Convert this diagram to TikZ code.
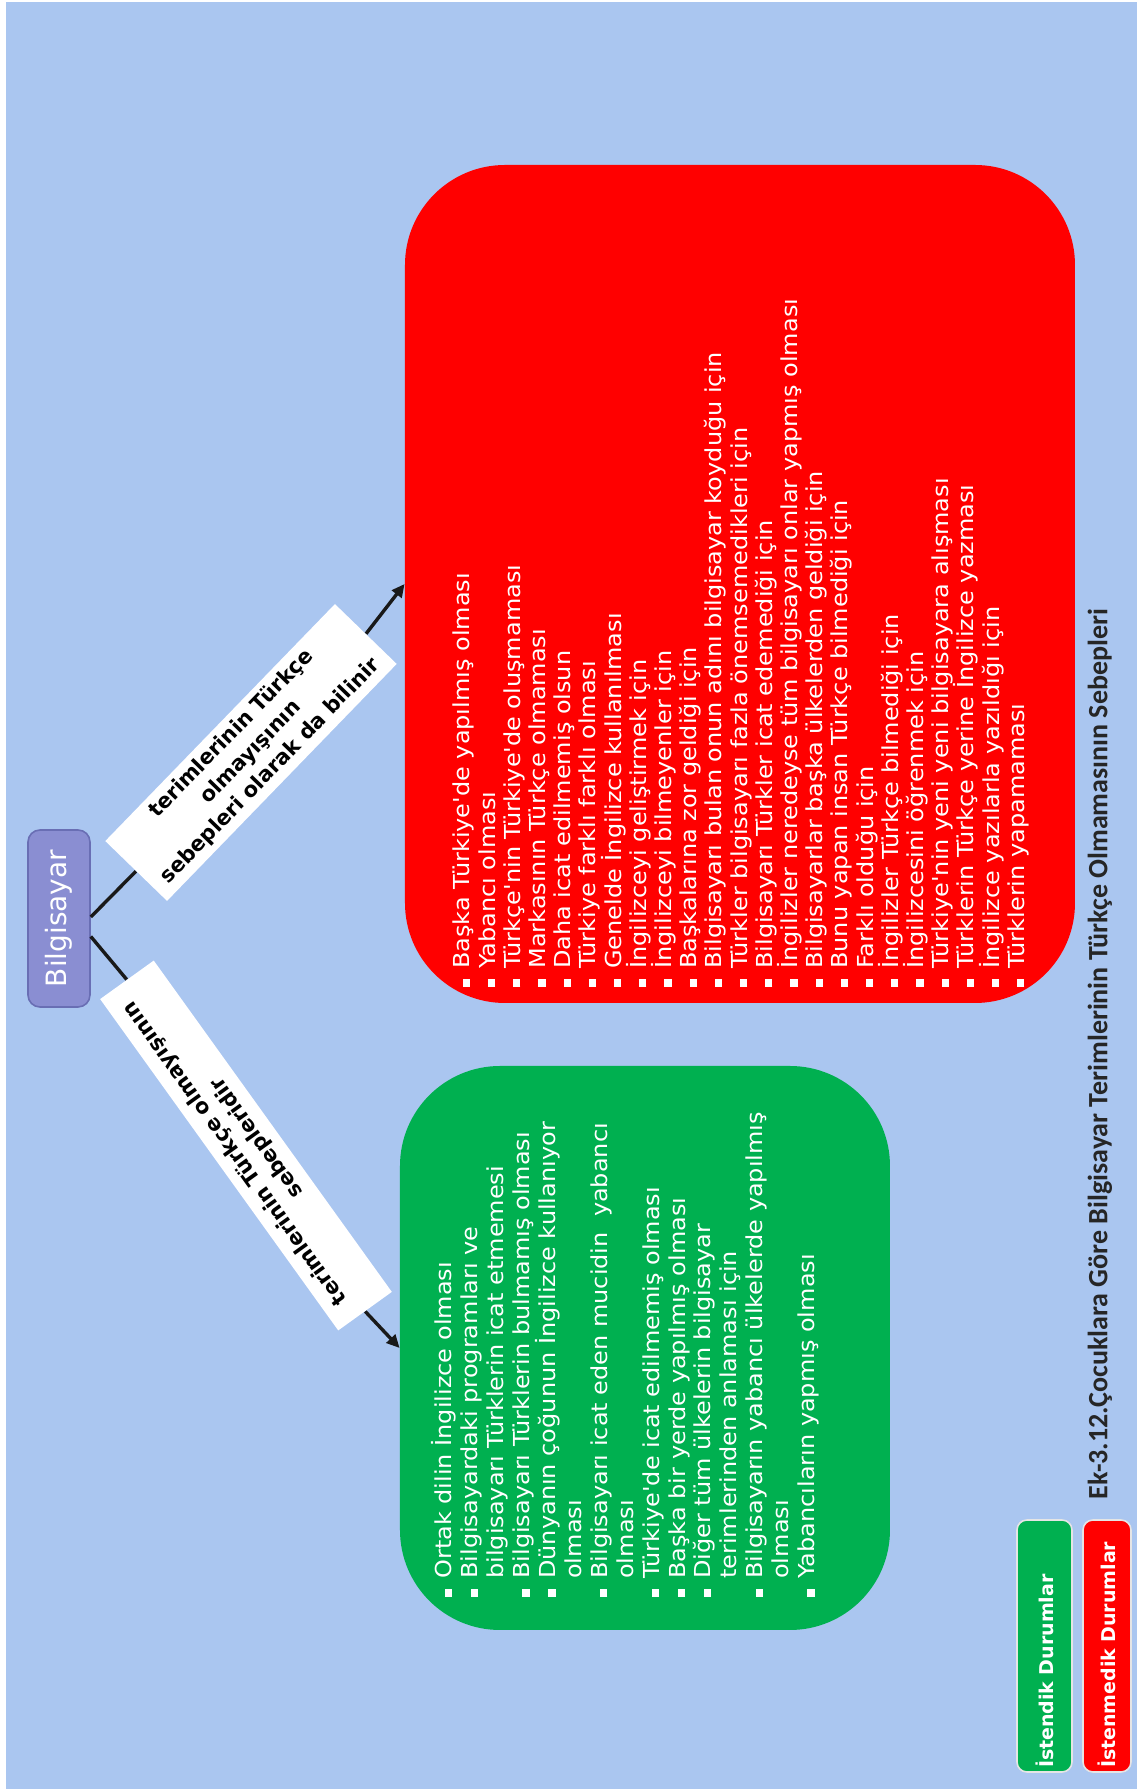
\documentclass[tikz,border=0pt]{standalone}
\usepackage{fontspec}
\setmainfont{DejaVu Sans}
\newfontfamily\capfont{Carlito}
\usetikzlibrary{arrows.meta,calc}

\definecolor{canvasblue}{RGB}{170,198,240}
\definecolor{okgreen}{RGB}{0,176,80}
\definecolor{nored}{RGB}{255,0,0}
\definecolor{rootfill}{RGB}{138,142,210}
\definecolor{rootline}{RGB}{105,110,180}

\newcommand{\itembul}{\rule{3.6pt}{3.6pt}\hspace{4.6pt}}
\newcommand{\itemgap}{\hspace*{8.2pt}}
\newcommand{\apos}{\textquotesingle}

\tikzset{
  rootnode/.style={rounded corners=6pt, fill=rootfill, draw=rootline, line width=0.8pt,
    text=white, font=\fontsize{14}{16}\selectfont, minimum width=88.5pt,
    minimum height=31pt, inner sep=0pt},
  tagbox/.style={fill=white, align=center, inner sep=2pt,
    font=\bfseries\fontsize{10.5}{13.5}\selectfont},
  groupbox/.style={rounded corners=50pt, inner sep=0pt},
  itemline/.style={anchor=base west, inner sep=0pt, text=white, xscale=1.09,
    font=\fontsize{11}{13}\selectfont},
  link/.style={line width=1.7pt, draw=black!90},
  tip/.style={-{Triangle[length=6.5pt,width=6pt]}},
  keybox/.style={rounded corners=5pt, draw=white!80!gray, line width=0.8pt,
    minimum width=126pt, text width=122pt, align=left, inner sep=2pt,
    text=white, font=\bfseries\fontsize{9.5}{11}\selectfont}
}

\begin{document}
\begin{tikzpicture}[x=0.5pt,y=0.5pt]
\begin{scope}[rotate=90, transform shape]
  % page and background
  \fill[white] (0,0) rectangle (1789,1137);
  \useasboundingbox (0,0) rectangle (1789,1137);
  \fill[canvasblue] (0,0) rectangle (1787,1131);

  % root
  \node[rootnode] (bil) at (870.5,1078) {Bilgisayar};

  % the two groups
  \node[groupbox, fill=nored, minimum width=419pt, minimum height=335pt] (red) at (1205,397) {};
  \node[groupbox, fill=okgreen, minimum width=282pt, minimum height=245pt] (green) at (441,492) {};

  % edge labels
  \node[tagbox, rotate=-44.1, minimum width=165pt, minimum height=43pt] (lab1) at (1036.5,886)
    {terimlerinin Türkçe\\olmayışının\\sebepleri olarak da bilinir};
  \node[tagbox, rotate=35.7, minimum width=204pt, minimum height=33pt] (lab2) at (643.5,891)
    {terimlerinin Türkçe olmayışının\\sebepleridir};

  % connectors
  \draw[link] ($(bil.south)+(1.5,0)$) -- (lab1.west);
  \draw[link,tip] (lab1.east) -- (red.north);
  \draw[link] ($(bil.south)+(-18,0)$) -- (lab2.east);
  \draw[link,tip] (lab2.west) -- (green.north);

  % items of the red group
  \foreach \txt [count=\i] in {
    Başka Türkiye\apos de yapılmış olması,
    Yabancı olması,
    Türkçe\apos nin Türkiye\apos de oluşmaması,
    Markasının Türkçe olmaması,
    Daha icat edilmemiş olsun,
    Türkiye farklı farklı olması,
    Genelde İngilizce kullanılması,
    İngilizceyi geliştirmek için,
    İngilizceyi bilmeyenler için,
    Başkalarına zor geldiği için,
    Bilgisayarı bulan onun adını bilgisayar koyduğu için,
    Türkler bilgisayarı fazla önemsemedikleri için,
    Bilgisayarı Türkler icat edemediği için,
    İngilizler neredeyse tüm bilgisayarı onlar yapmış olması,
    Bilgisayarlar başka ülkelerden geldiği için,
    Bunu yapan insan Türkçe bilmediği için,
    Farklı olduğu için,
    İngilizler Türkçe bilmediği için,
    İngilizcesini öğrenmek için,
    Türkiye\apos nin yeni yeni bilgisayara alışması,
    Türklerin Türkçe yerine İngilizce yazması,
    İngilizce yazılarla yazıldığı için,
    Türklerin yapamaması}
    \node[itemline] (r\i) at (802,{667-(\i-1)*25.2}) {\itembul\txt};

  % items of the green group
  \foreach \txt [count=\i] in {
    \itembul Ortak dilin İngilizce olması,
    \itembul Bilgisayardaki programları ve,
    \itemgap bilgisayarı Türklerin icat etmemesi,
    \itembul Bilgisayarı Türklerin bulmamış olması,
    \itembul Dünyanın çoğunun İngilizce kullanıyor,
    \itemgap olması,
    \itembul Bilgisayarı icat eden mucidin~ yabancı,
    \itemgap olması,
    \itembul Türkiye\apos de icat edilmemiş olması,
    \itembul Başka bir yerde yapılmış olması,
    \itembul Diğer tüm ülkelerin bilgisayar,
    \itemgap terimlerinden anlaması için,
    \itembul Bilgisayarın yabancı ülkelerde yapılmış,
    \itemgap olması,
    \itembul Yabancıların yapmış olması}
    \node[itemline] (g\i) at (192,{685-(\i-1)*25.9}) {\txt};

  % legend
  \node[keybox, fill=okgreen, minimum height=27.5pt] (k1) at (143,92.5) {İstendik Durumlar};
  \node[keybox, fill=nored, minimum height=24pt] (k2) at (143,30) {İstenmedik Durumlar};

  % caption
  \node[font=\capfont\bfseries\fontsize{14}{16}\selectfont, text=black!85, inner sep=0pt]
    (title) at (735,37) {Ek-3.12.Çocuklara Göre Bilgisayar Terimlerinin Türkçe Olmamasının Sebepleri};
\end{scope}
\end{tikzpicture}
\end{document}
